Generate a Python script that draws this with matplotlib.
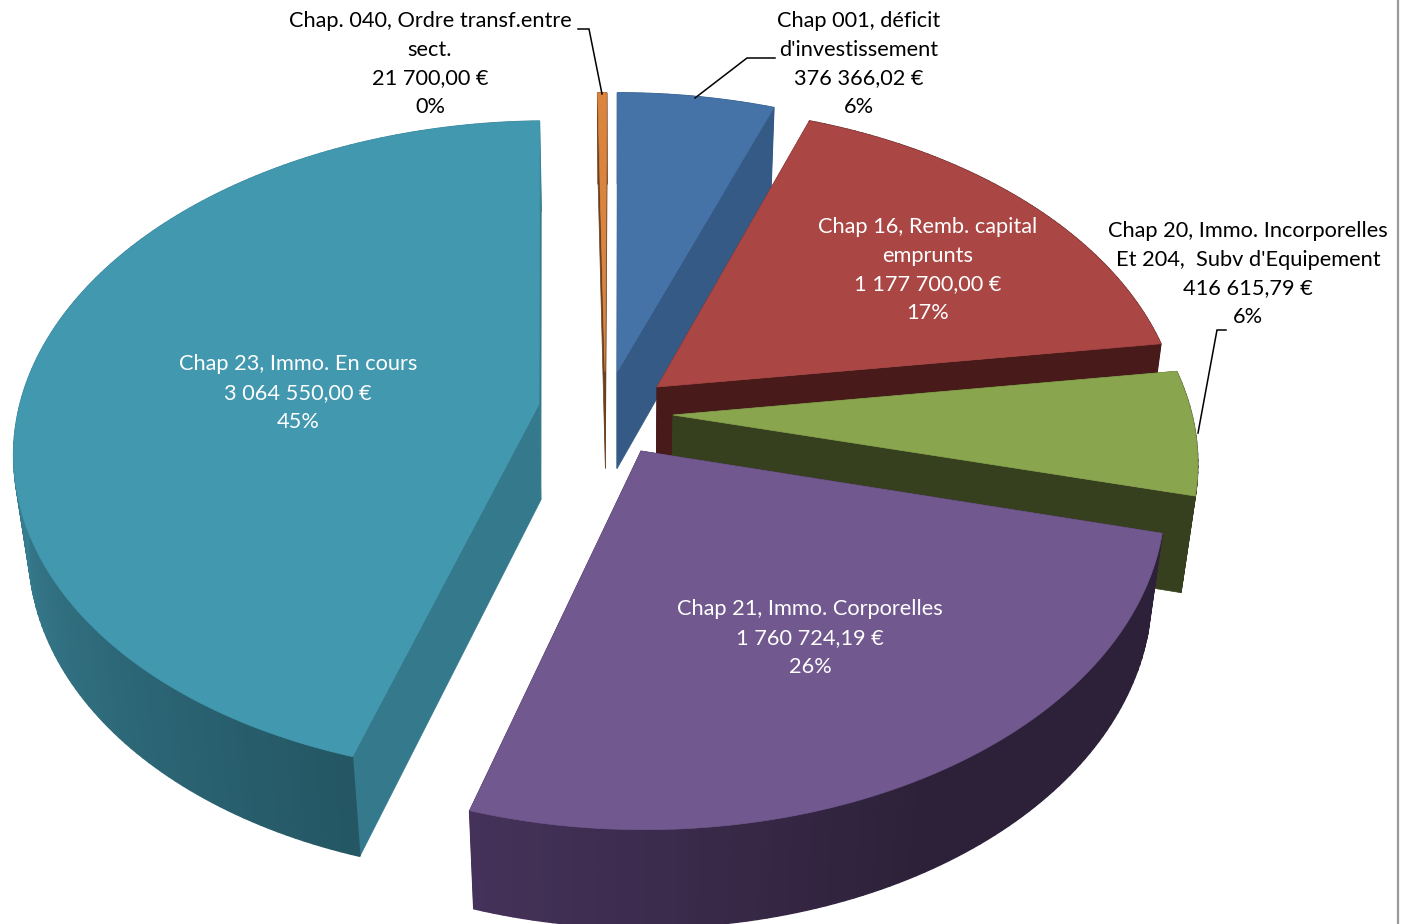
import numpy as np
import matplotlib
matplotlib.use("Agg")
import matplotlib.pyplot as plt
from matplotlib.colors import to_rgb
from matplotlib.patches import Polygon

# chart data, same order as the pie (clockwise from 12 o'clock)
names = ["Chap 001, déficit\nd'investissement",
         "Chap 16, Remb. capital\nemprunts",
         "Chap 20, Immo. Incorporelles\nEt 204,  Subv d'Equipement",
         "Chap 21, Immo. Corporelles",
         "Chap 23, Immo. En cours",
         "Chap. 040, Ordre transf.entre\nsect."]
values = [376366.02, 1177700.00, 416615.79, 1760724.19, 3064550.00, 21700.00]

# styles
top_colors = ["#4572A7", "#AA4643", "#89A54E", "#71588F", "#4198AF", "#DB843D"]
cut_colors = ["#345A85", "#481A1A", "#37401E", "#2D2139", "#35798C", "#6B4020"]
wall_near = ["#345A85", "#481A1A", "#37401E", "#45325A", "#245663", "#6B4020"]
wall_far = ["#345A85", "#481A1A", "#37401E", "#2D2139", "#3A8296", "#6B4020"]
text_colors = ["black", "white", "black", "white", "white", "black"]

# layout in pixels: where each exploded slice has its tip, and where its label sits
apex = [(617, 372), (657, 387), (673, 415), (641, 451), (539, 404), (605, 372)]
label_pos = [(859, 64), (928, 270), (1248, 274), (810, 638), (298, 393), (430, 64)]
leaders = [[(775, 58), (747, 58), (695, 98)],
           [(1226, 330), (1217, 330), (1198, 433)],
           [(578, 29), (589, 29), (602, 94)]]

# perspective of the pie plane, CX/CY is the unexploded middle of the pie
CX, CY = 620, 410
RX, RY, TILT = 519, 322, 0.135
DEPTH, SHRINK = 98, 0.025
order = [4, 5, 0, 1, 2, 3]


def project(ap, ang, r, z):
    x = r * np.sin(ang)
    y = r * np.cos(ang)
    w = 1 + TILT * y + SHRINK * z
    return CX + (ap[0] - CX + RX * x) / w, CY + (ap[1] - CY - RY * y + DEPTH * z) / w


def mix(c1, c2, t):
    a, b = np.array(to_rgb(c1)), np.array(to_rgb(c2))
    return tuple(a + (b - a) * t)


def fmt_euro(v):
    return f"{v:,.2f}".replace(",", " ").replace(".", ",") + " €"


total = sum(values)
edges = np.radians(np.concatenate([[0], np.cumsum(values) / total * 360]))

fig = plt.figure(figsize=(14.07, 9.24), dpi=100)
ax = fig.add_axes([0, 0, 1, 1])
ax.set_xlim(0, 1407)
ax.set_ylim(924, 0)
ax.axis("off")

for i in order:
    a0, a1 = edges[i], edges[i + 1]
    ap = apex[i]
    # both cut faces first
    for a in (a0, a1):
        pts = [project(ap, a, 0, 0), project(ap, a, 1, 0), project(ap, a, 1, 1), project(ap, a, 0, 1)]
        ax.add_patch(Polygon(pts, fc=cut_colors[i], ec=cut_colors[i], lw=0.5))
    # outer wall in small strips for the shading
    steps = np.linspace(a0, a1, max(3, int(np.degrees(a1 - a0)) + 1))
    for s0, s1 in zip(steps[:-1], steps[1:]):
        mid = np.degrees((s0 + s1) / 2)
        t = np.clip((mid - 197) / 73, 0, 1)
        if i == 3:
            t = np.clip((197 - mid) / 45, 0, 1)
        col = mix(wall_near[i], wall_far[i], t)
        pts = [project(ap, s0, 1, 0), project(ap, s1, 1, 0), project(ap, s1, 1, 1), project(ap, s0, 1, 1)]
        ax.add_patch(Polygon(pts, fc=col, ec=col, lw=1))
    # top face
    arc = [project(ap, a, 1, 0) for a in np.linspace(a0, a1, 200)]
    ax.add_patch(Polygon([project(ap, a0, 0, 0)] + arc, fc=top_colors[i], ec=top_colors[i], lw=0.5))

for line in leaders:
    ax.plot([p[0] for p in line], [p[1] for p in line], color="black", lw=1.1, solid_joinstyle="miter")

for i in range(len(values)):
    pct = round(values[i] / total * 100)
    txt = f"{names[i]}\n{fmt_euro(values[i])}\n{pct}%"
    ax.text(label_pos[i][0], label_pos[i][1], txt, ha="center", va="center", color=text_colors[i],
            family="Lato", fontsize=15.7, linespacing=1.54)

# edge of the chart frame on the right
ax.plot([1398, 1398], [0, 924], color="#9A9A9A", lw=1.6)

fig.savefig("out.png", dpi=100)
